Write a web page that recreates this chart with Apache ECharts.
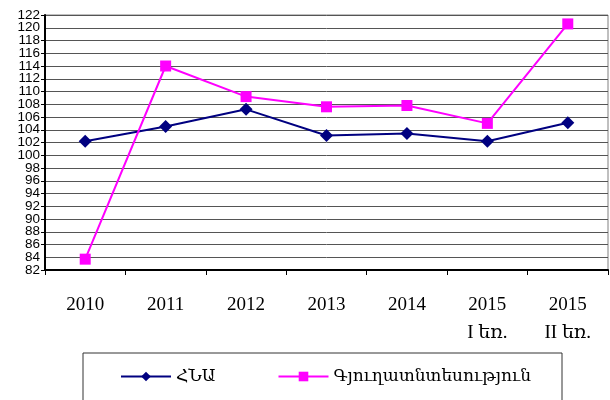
<!DOCTYPE html>
<html><head><meta charset="utf-8">
<script src="https://cdn.jsdelivr.net/npm/echarts@6/dist/echarts.min.js"></script>
<style>html,body{margin:0;padding:0;background:#fff}#c{width:610px;height:400px}</style>
</head><body><div id="c"></div>
<script>
const categories = ['2010', '2011', '2012', '2013', '2014', '2015\nI եռ.', '2015\nII եռ.'];
const gdp = [102.2, 104.5, 107.2, 103.1, 103.4, 102.2, 105.1];
const agri = [83.7, 114.0, 109.2, 107.6, 107.8, 105.0, 120.6];
const seriesNames = ['ՀՆԱ', 'Գյուղատնտեսություն'];
const yMin = 82, yMax = 122, yStep = 2;

const labelStyle = { margin: 5, color: '#000', fontFamily: 'Liberation Sans, Arial, sans-serif', fontSize: 13.5, hideOverlap: false };
const chart = echarts.init(document.getElementById('c'));
chart.setOption({
  animation: false,
  backgroundColor: '#fff',
  grid: { left: 45, right: 2, top: 15, bottom: 130, show: true, borderColor: '#808080', borderWidth: 1 },
  xAxis: {
    type: 'category', data: categories, boundaryGap: true,
    axisLine: { lineStyle: { color: '#000', width: 2 } },
    axisTick: { show: true, length: 5, lineStyle: { color: '#000' } },
    axisLabel: { margin: 21, color: '#000', fontFamily: 'Liberation Serif, DejaVu Serif, serif', fontSize: 19, lineHeight: 28 }
  },
  yAxis: [{
    type: 'value', min: yMin, max: yMax, interval: yStep,
    axisLine: { show: true, lineStyle: { color: '#000', width: 2 } },
    axisTick: { show: true, length: 4, lineStyle: { color: '#000' } },
    axisLabel: Object.assign({}, labelStyle, { showMinLabel: true, showMaxLabel: true }),
    splitLine: { lineStyle: { color: '#555', width: 1 } }
  }, {
    type: 'value', min: yMin, max: yMax, interval: yStep, position: 'left', offset: 0,
    axisLine: { show: false }, axisTick: { show: false }, splitLine: { show: false },
    axisLabel: Object.assign({}, labelStyle, { showMinLabel: false, showMaxLabel: false,
      formatter: v => (v === yMin + yStep || v === yMax - yStep) ? String(v) : '' })
  }],
  legend: {
    left: 83, top: 353,
    padding: [15, 31, 16, 37],
    borderColor: '#333', borderWidth: 1,
    itemWidth: 50, itemHeight: 12, itemGap: 62,
    textStyle: { fontFamily: 'DejaVu Serif, Liberation Serif, serif', fontSize: 17, color: '#000' },
    data: seriesNames
  },
  series: [
    { name: seriesNames[0], type: 'line', data: gdp, symbol: 'diamond', symbolSize: 13,
      itemStyle: { color: '#000080' }, lineStyle: { color: '#000080', width: 2 } },
    { name: seriesNames[1], type: 'line', data: agri, symbol: 'rect', symbolSize: 11,
      itemStyle: { color: '#ff00ff' }, lineStyle: { color: '#ff00ff', width: 2 } }
  ]
});
</script></body></html>
